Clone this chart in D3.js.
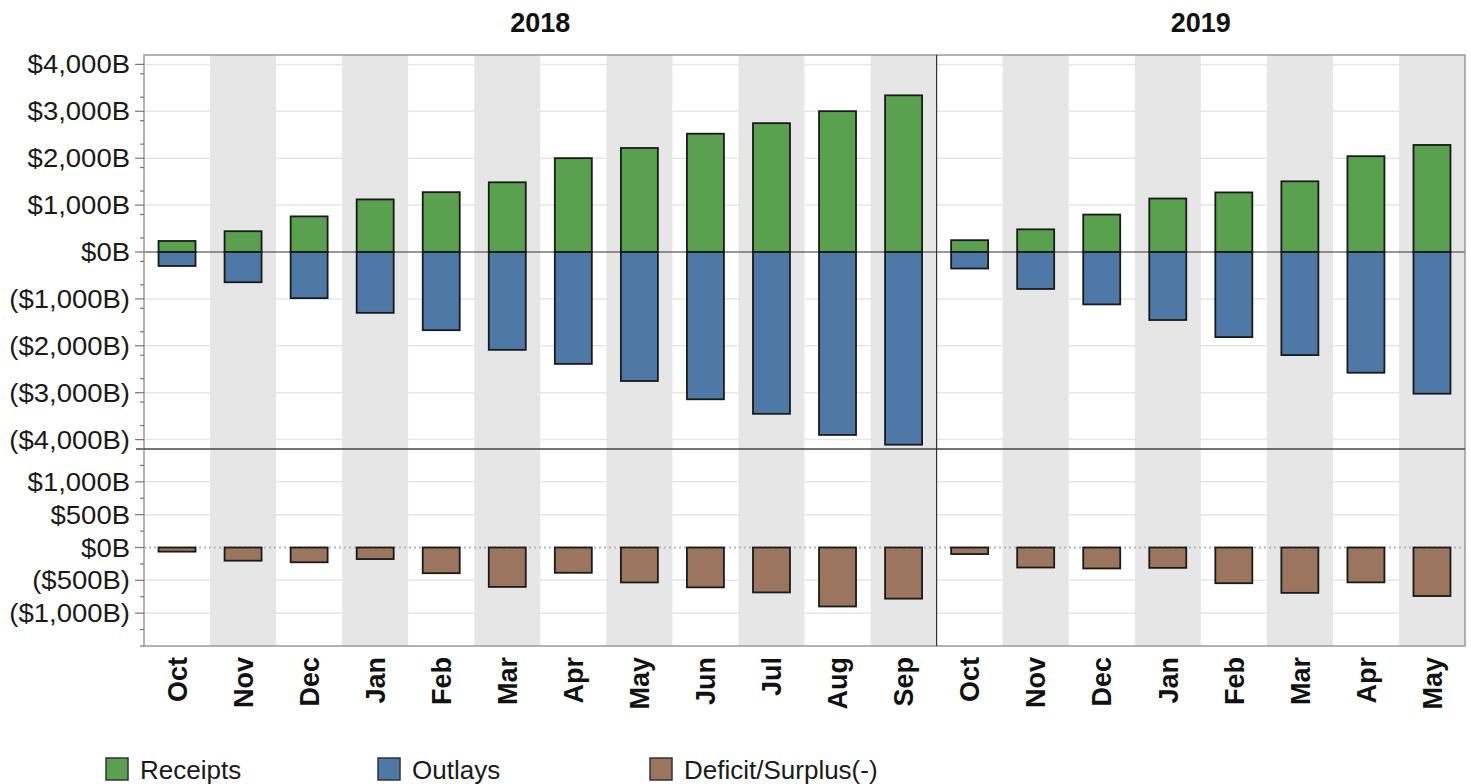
<!DOCTYPE html>
<html>
<head>
<meta charset="utf-8">
<script src="https://cdn.jsdelivr.net/npm/d3@7/dist/d3.min.js"></script>
<style>
  body { margin: 0; background: #fff; }
  svg { display: block; font-family: "Liberation Sans", Arial, sans-serif; }
</style>
</head>
<body>
<svg id="chart" width="1471" height="784"></svg>
<script>
// ---- data (cumulative fiscal-year totals, $ billions) ----
const years = ["2018", "2019"];
const months2018 = ["Oct","Nov","Dec","Jan","Feb","Mar","Apr","May","Jun","Jul","Aug","Sep"];
const months2019 = ["Oct","Nov","Dec","Jan","Feb","Mar","Apr","May"];
const receipts2018 = [235, 443, 759, 1121, 1276, 1486, 2001, 2218, 2522, 2747, 3002, 3340];
const outlays2018  = [-298, -645, -984, -1297, -1667, -2086, -2386, -2750, -3140, -3450, -3900, -4108];
const deficit2018  = [-63, -201, -225, -176, -391, -600, -385, -532, -607, -684, -898, -779];
const receipts2019 = [252, 483, 798, 1140, 1270, 1507, 2043, 2282];
const outlays2019  = [-352, -788, -1117, -1450, -1814, -2198, -2574, -3021];
const deficit2019  = [-100, -305, -319, -310, -544, -691, -531, -739];
const topTicks = [-4000, -3000, -2000, -1000, 0, 1000, 2000, 3000, 4000];
const bottomTicks = [-1000, -500, 0, 500, 1000];
const seriesNames = ["Receipts", "Outlays", "Deficit/Surplus(-)"];
const seriesColors = ["#59a14f", "#4e79a7", "#9c755f"];

// ---- build rows ----
const rows = [];
months2018.forEach((m, i) => rows.push({year: "2018", month: m, idx: i, key: "2018-" + m,
  receipts: receipts2018[i], outlays: outlays2018[i], deficit: deficit2018[i]}));
months2019.forEach((m, i) => rows.push({year: "2019", month: m, idx: i, key: "2019-" + m,
  receipts: receipts2019[i], outlays: outlays2019[i], deficit: deficit2019[i]}));

const svg = d3.select("#chart");
const L = 144, R = 1465, T = 55, MID = 449, B = 646;

const x = d3.scaleBand().domain(rows.map(d => d.key)).range([L, R]).padding(0);
const bw = x.bandwidth() * 0.56;
const yTop = d3.scaleLinear().domain([-4200, 4200]).range([MID, T]);
const yBot = d3.scaleLinear().domain([-1500, 1500]).range([B, MID]);

const fmt = d3.format(",");
const money = v => v < 0 ? `($${fmt(-v)}B)` : `$${fmt(v)}B`;

// shaded bands (alternate columns within each year)
svg.append("g").selectAll("rect").data(rows.filter(d => d.idx % 2 === 1)).join("rect")
  .attr("x", d => x(d.key)).attr("width", x.bandwidth())
  .attr("y", T).attr("height", B - T).attr("fill", "#e6e6e6");

// gridlines
const grid = svg.append("g").attr("stroke", "#e6e6e6").attr("stroke-width", 1.5);
grid.selectAll("line.t").data(topTicks.filter(v => v !== 0)).join("line")
  .attr("x1", L).attr("x2", R).attr("y1", d => yTop(d)).attr("y2", d => yTop(d));
grid.selectAll("line.b").data(bottomTicks.filter(v => v !== 0)).join("line")
  .attr("class", "b")
  .attr("x1", L).attr("x2", R).attr("y1", d => yBot(d)).attr("y2", d => yBot(d));

// zero lines
svg.append("line").attr("x1", L).attr("x2", R).attr("y1", yTop(0)).attr("y2", yTop(0))
  .attr("stroke", "#333").attr("stroke-width", 1.2);
svg.append("line").attr("x1", L).attr("x2", R).attr("y1", yBot(0)).attr("y2", yBot(0))
  .attr("stroke", "#b5b5b5").attr("stroke-width", 2).attr("stroke-dasharray", "2,3");

// bars
const cx = d => x(d.key) + x.bandwidth() / 2;
const barStyle = sel => sel.attr("stroke", "#1a1a1a").attr("stroke-width", 1.8);
svg.append("g").selectAll("rect").data(rows).join("rect")
  .attr("x", d => cx(d) - bw / 2).attr("width", bw)
  .attr("y", d => yTop(d.receipts)).attr("height", d => yTop(0) - yTop(d.receipts))
  .attr("fill", seriesColors[0]).call(barStyle);
svg.append("g").selectAll("rect").data(rows).join("rect")
  .attr("x", d => cx(d) - bw / 2).attr("width", bw)
  .attr("y", yTop(0)).attr("height", d => yTop(d.outlays) - yTop(0))
  .attr("fill", seriesColors[1]).call(barStyle);
svg.append("g").selectAll("rect").data(rows).join("rect")
  .attr("x", d => cx(d) - bw / 2).attr("width", bw)
  .attr("y", yBot(0)).attr("height", d => yBot(d.deficit) - yBot(0))
  .attr("fill", seriesColors[2]).call(barStyle);

// frame
const frame = svg.append("g").attr("fill", "none");
frame.append("rect").attr("x", L).attr("y", T).attr("width", R - L).attr("height", B - T)
  .attr("stroke", "#999").attr("stroke-width", 1.5);
frame.append("line").attr("x1", L - 8).attr("x2", R).attr("y1", MID).attr("y2", MID)
  .attr("stroke", "#444").attr("stroke-width", 1.5);
const divX = x("2019-Oct");
frame.append("line").attr("x1", divX).attr("x2", divX).attr("y1", T).attr("y2", B)
  .attr("stroke", "#333").attr("stroke-width", 1.2);

// y axes
function yAxis(scale, ticks, minorStep) {
  const g = svg.append("g").attr("transform", `translate(${L},0)`);
  const minor = d3.range(scale.domain()[0], scale.domain()[1] + 1, minorStep)
    .filter(v => !ticks.includes(v));
  g.selectAll("line.minor").data(minor).join("line")
    .attr("x1", -4).attr("x2", 0).attr("y1", d => scale(d)).attr("y2", d => scale(d))
    .attr("stroke", "#777").attr("stroke-width", 1.2);
  g.selectAll("line.major").data(ticks).join("line")
    .attr("x1", -9).attr("x2", 0).attr("y1", d => scale(d)).attr("y2", d => scale(d))
    .attr("stroke", "#777").attr("stroke-width", 1.2);
  g.selectAll("text").data(ticks).join("text")
    .attr("transform", d => `translate(-14,${scale(d) + 9}) scale(1.1,1)`)
    .attr("text-anchor", "end").attr("font-size", 25).attr("fill", "#1a1a1a")
    .text(money);
}
yAxis(yTop, topTicks, 500);
yAxis(yBot, bottomTicks, 250);

// x labels
svg.append("g").selectAll("text").data(rows).join("text")
  .attr("transform", d => `translate(${cx(d)},657) rotate(-90)`)
  .attr("text-anchor", "end").attr("dy", "0.36em")
  .attr("font-size", 27).attr("font-weight", "bold").attr("fill", "#111")
  .text(d => d.month);

// year headers
years.forEach(yr => {
  const ks = rows.filter(d => d.year === yr);
  const x0 = x(ks[0].key), x1 = x(ks[ks.length - 1].key) + x.bandwidth();
  svg.append("text").attr("x", (x0 + x1) / 2).attr("y", 32)
    .attr("text-anchor", "middle").attr("font-size", 27).attr("font-weight", "bold")
    .attr("fill", "#111").text(yr);
});

// legend
const legX = [106, 378, 650];
const leg = svg.append("g");
seriesNames.forEach((n, i) => {
  leg.append("rect").attr("x", legX[i]).attr("y", 758).attr("width", 22).attr("height", 22)
    .attr("fill", seriesColors[i]).attr("stroke", "#333").attr("stroke-width", 1.5);
  leg.append("text").attr("x", legX[i] + 34).attr("y", 779)
    .attr("font-size", 26).attr("fill", "#1a1a1a").text(n);
});
</script>
</body>
</html>
